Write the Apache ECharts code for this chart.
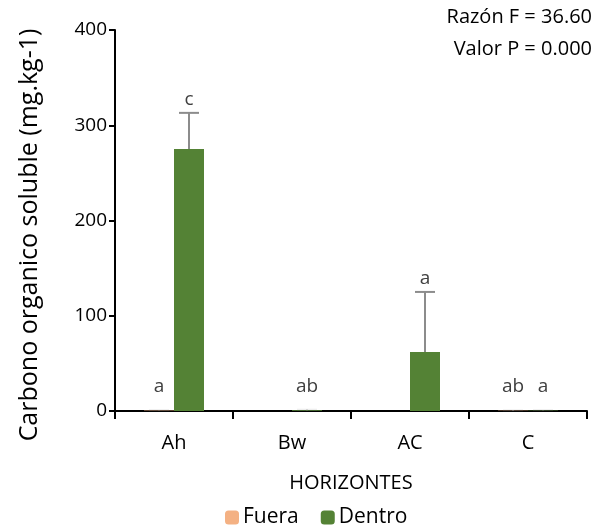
<!DOCTYPE html>
<html>
<head>
<meta charset="utf-8">
<script src="https://cdn.jsdelivr.net/npm/echarts@6/dist/echarts.min.js"></script>
<style>
  html, body { margin: 0; padding: 0; background: #fff; }
  #chart { width: 600px; height: 528px; }
</style>
</head>
<body>
<div id="chart"></div>
<script>
const categories = ['Ah', 'Bw', 'AC', 'C']
const fuera = [0.4, 0, 0, 0.3]
const dentro = [275, 0.8, 62, 0.4]
const fueraErr = [0.5, 0, 0, 0.4]
const dentroErr = [38, 0.6, 63, 0.5]
const fueraLetters = ['a', '', '', 'ab']
const dentroLetters = ['c', 'ab', 'a', 'a']
const yTicks = [0, 100, 200, 300, 400]

const font = '"Open Sans", sans-serif'
const textColor = '#404040'

// error bar + letter, drawn over bar position (offset -1 = Fuera, +1 = Dentro)
function errorSeries(name, values, errs, letters, side) {
  return {
    type: 'custom',
    name: name + '_err',
    z: 5,
    data: values.map((v, i) => [i, v, errs[i]]),
    renderItem(params, api) {
      const i = api.value(0)
      const v = api.value(1)
      const e = api.value(2)
      const letter = letters[params.dataIndex]
      const half = 30 / 2
      const x = api.coord([i, 0])[0] + side * half
      const base = api.coord([i, 0])[1]
      const top = api.coord([i, v])[1]
      const errTop = api.coord([i, v + e])[1]
      const children = []
      if (e > 0) {
        const small = (v + e) < 2
        children.push({ type: 'line', shape: { x1: x, y1: top, x2: x, y2: errTop }, style: { stroke: '#8c8c8c', lineWidth: 2 } })
        children.push({ type: 'line', shape: { x1: x - 10, y1: errTop, x2: x + 10, y2: errTop }, style: { stroke: '#8c8c8c', lineWidth: 2, opacity: small ? 0.15 : 1 } })
      }
      if (letter) {
        const ly = Math.min(errTop - 13, base - 24)
        children.push({
          type: 'text',
          style: { text: letter, x: x, y: ly, align: 'center', verticalAlign: 'middle', fill: textColor, font: '19px ' + font }
        })
      }
      return { type: 'group', children }
    }
  }
}

const chart = echarts.init(document.getElementById('chart'))
chart.setOption({
  animation: false,
  grid: { left: 115, right: 13, top: 30, bottom: 117 },
  legend: {
    bottom: -5,
    left: 220,
    itemWidth: 14,
    itemHeight: 14,
    itemGap: 22,
    data: ['Fuera', 'Dentro'],
    textStyle: { fontSize: 21, color: '#000', fontFamily: font, padding: [0, 0, 0, -1] }
  },
  xAxis: {
    type: 'category',
    data: categories,
    name: 'HORIZONTES',
    nameLocation: 'middle',
    nameGap: 62,
    nameTextStyle: { fontSize: 20, color: '#000', fontFamily: font },
    axisLine: { lineStyle: { color: '#000', width: 2 } },
    axisTick: { show: true, length: 8, lineStyle: { color: '#000', width: 2 } },
    axisLabel: { fontSize: 20, color: '#000', fontFamily: font, margin: 22 }
  },
  yAxis: {
    type: 'value',
    min: yTicks[0],
    max: yTicks[yTicks.length - 1],
    interval: 100,
    axisLine: { show: true, lineStyle: { color: '#000', width: 2 } },
    axisTick: { show: true, length: 6, lineStyle: { color: '#000', width: 2 } },
    axisLabel: { fontSize: 19, color: '#000', fontFamily: font, margin: 8 },
    splitLine: { show: false }
  },
  graphic: [
    {
      type: 'text', x: 30, y: 235, rotation: Math.PI / 2,
      style: { text: 'Carbono organico soluble (mg.kg-1)', font: '25px ' + font, fill: '#000', align: 'center', verticalAlign: 'middle' }
    },
    { type: 'text', right: 8, top: 7, style: { text: 'Razón F = 36.60', font: '20px ' + font, fill: '#000' } },
    { type: 'text', right: 8, top: 39, style: { text: 'Valor P = 0.000', font: '20px ' + font, fill: '#000' } }
  ],
  series: [
    { type: 'bar', name: 'Fuera', data: fuera, barWidth: 30, barGap: '0%', itemStyle: { color: '#F4B183' } },
    { type: 'bar', name: 'Dentro', data: dentro, barWidth: 30, barGap: '0%', itemStyle: { color: '#548235' } },
    errorSeries('Fuera', fuera, fueraErr, fueraLetters, -1),
    errorSeries('Dentro', dentro, dentroErr, dentroLetters, 1)
  ]
})
</script>
</body>
</html>
